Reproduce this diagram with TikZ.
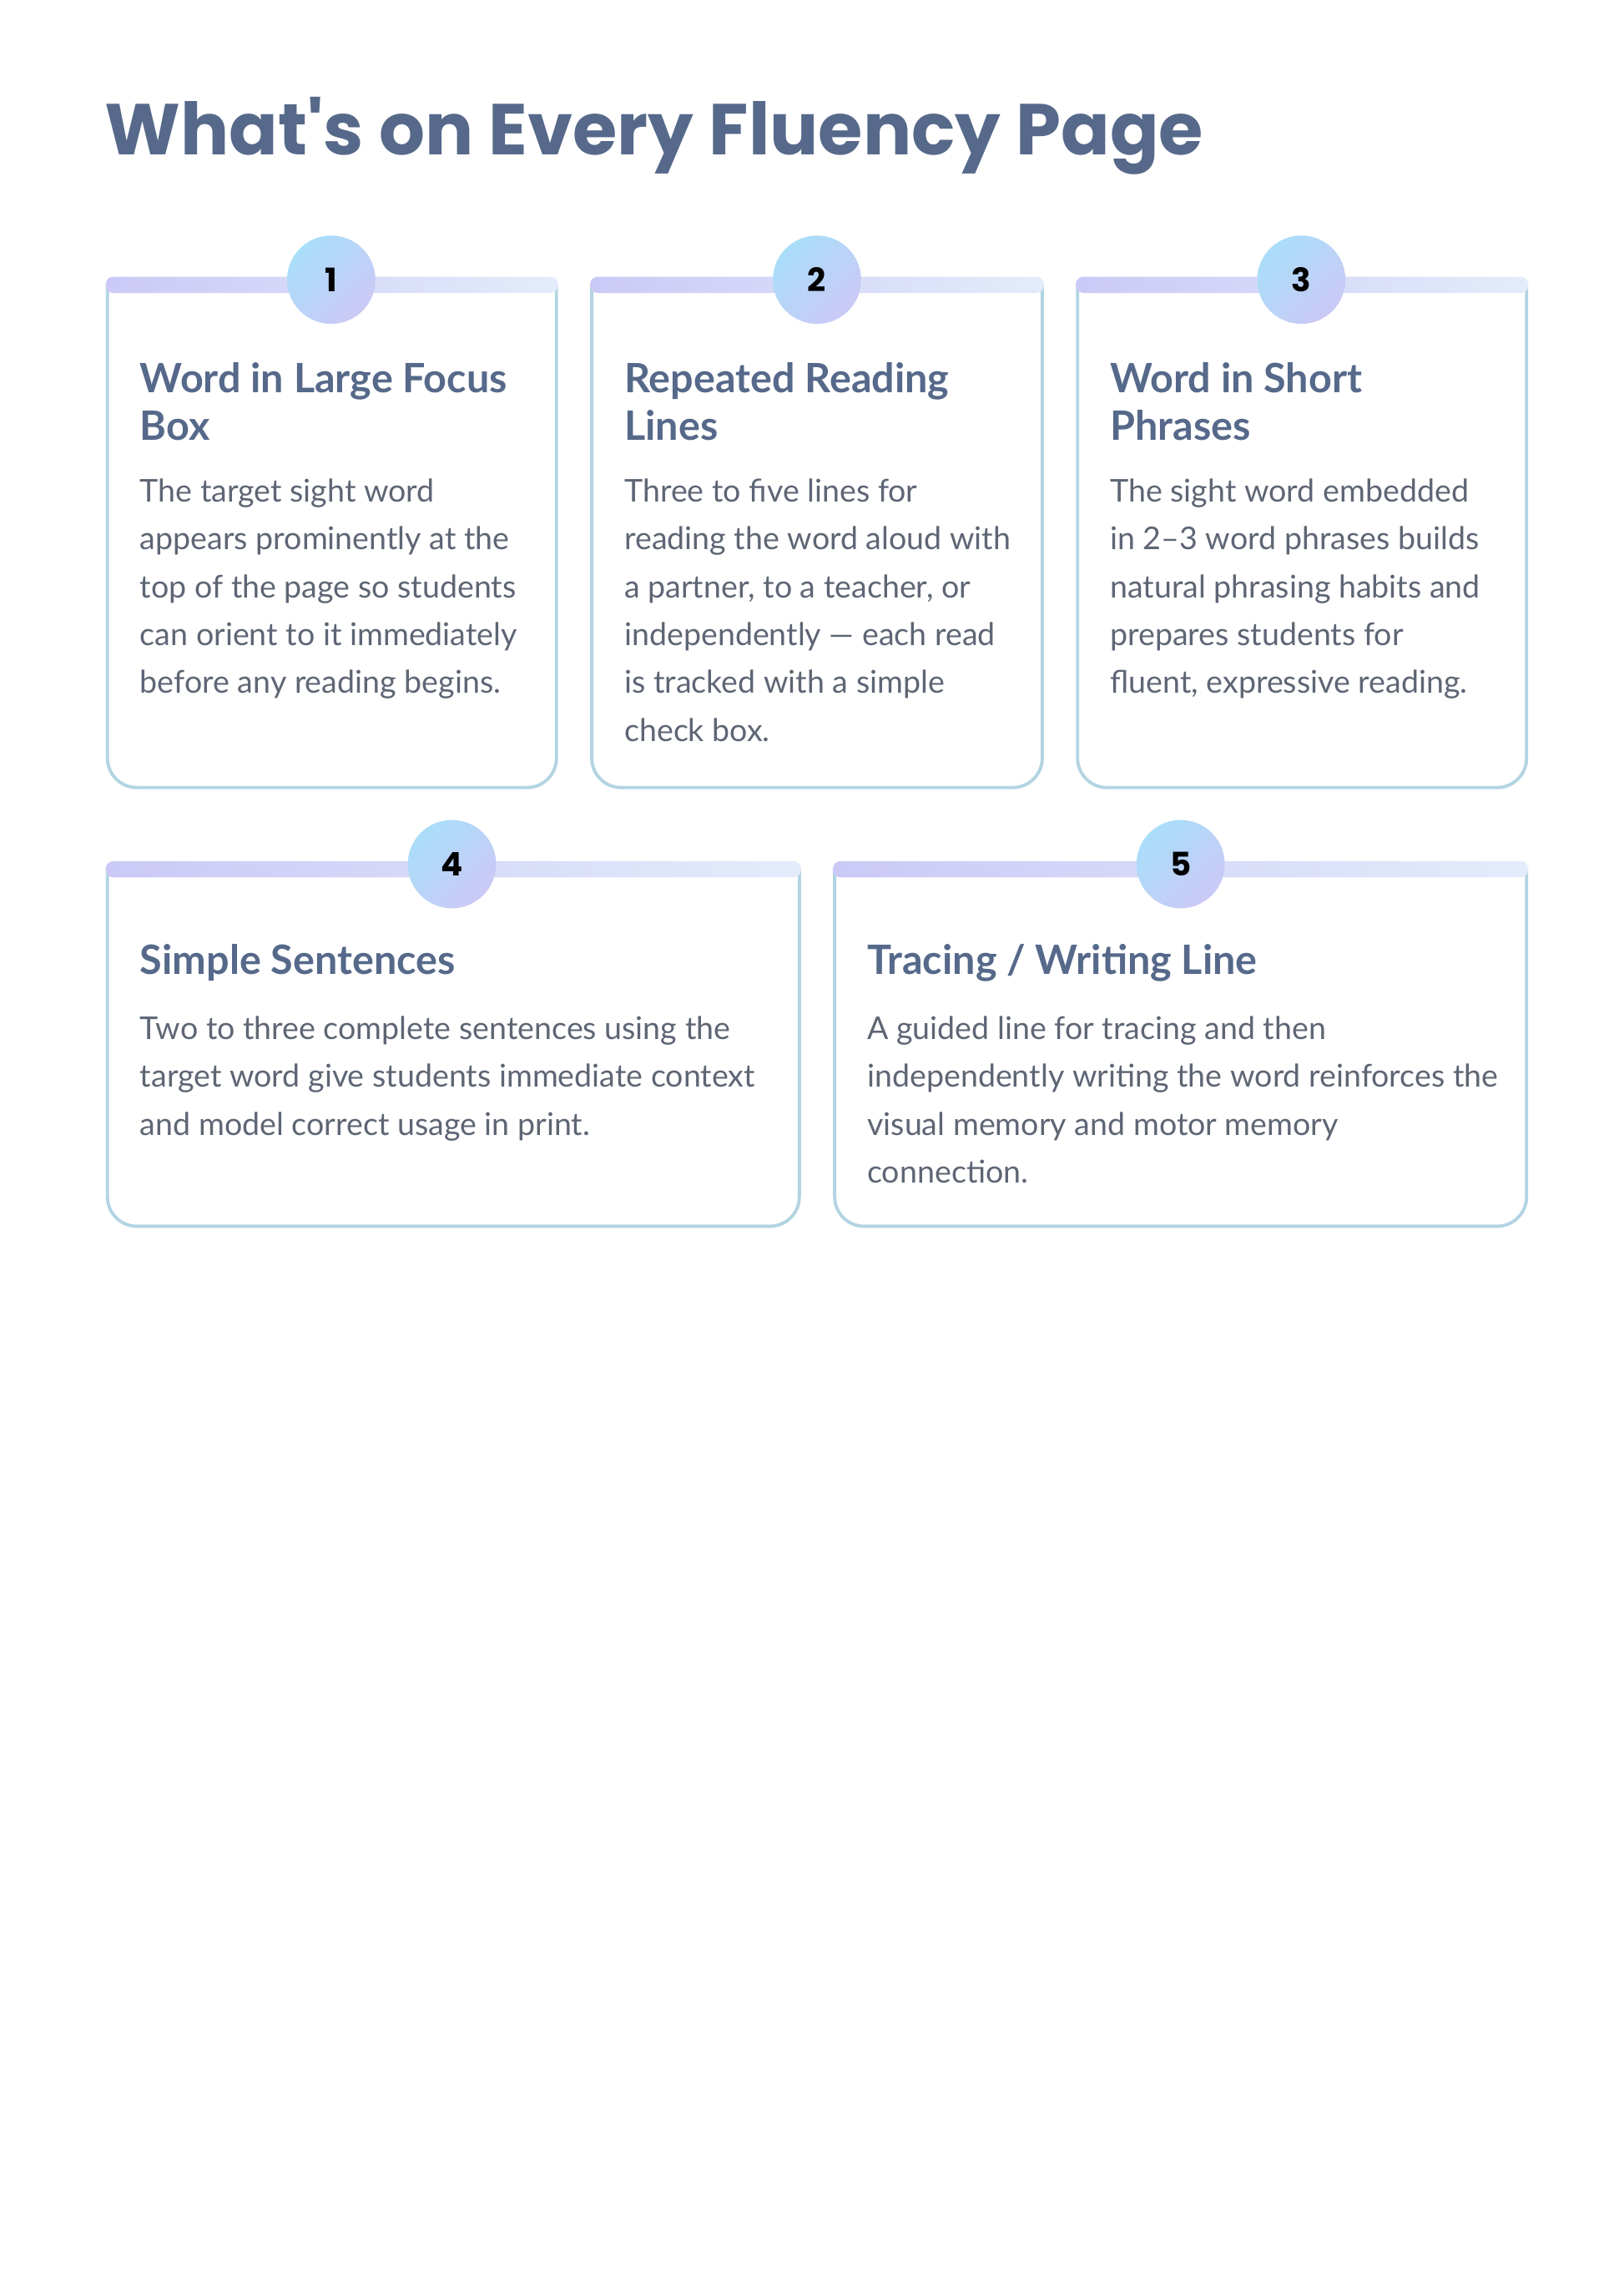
\documentclass[tikz,border=0pt]{standalone}
\usepackage{fontspec}
\setmainfont{Lato}
\newfontfamily\titlefont{Poppins}
\definecolor{ink}{HTML}{56698A}
\definecolor{body}{HTML}{5E6675}
\definecolor{bord}{HTML}{B3D4E2}
\definecolor{lav}{HTML}{CBC9F6}
\definecolor{sky}{HTML}{A9DEF9}
\definecolor{pale}{HTML}{E3ECFB}
\tikzset{
 head/.style={anchor=base west,inner sep=0pt,align=left,text=ink,font=\fontsize{27.5}{32}\selectfont\bfseries},
 txt/.style={anchor=base west,inner sep=0pt,align=left,text=body,font=\fontsize{21.3}{32.5}\selectfont},
 num/.style={circle,minimum size=60pt,inner sep=0pt,shading=axis,top color=sky,bottom color=lav,shading angle=45,font=\titlefont\fontsize{22}{22}\selectfont\bfseries,text=black},
}
\newcommand{\card}[4]{% x1 x2 ytop ybottom
 \draw[bord,line width=2.2pt,rounded corners=20pt] (#1,#3+5) -- (#1,#4) -- (#2,#4) -- (#2,#3+5);
 \shade[rounded corners=5pt,left color=lav,middle color=sky,right color=pale] (#1-1.1,#3) rectangle (#2+1.1,#3+11);
}
\begin{document}
\begin{tikzpicture}[x=1pt,y=-1pt]
\useasboundingbox[fill=white] (0,0) rectangle (1103,1559);
\node[anchor=base west,inner sep=0pt,text=ink,font=\titlefont\fontsize{49}{60}\selectfont\bfseries] (title) at (71,105) {What's on Every Fluency Page};
\card{73}{378}{188}{535}
\card{402}{708}{188}{535}
\card{732}{1037}{188}{535}
\card{73}{543}{585}{833}
\card{567}{1037}{585}{833}
\node[num] (n1) at (225,190) {1};
\node[num] (n2) at (555,190) {2};
\node[num] (n3) at (884,190) {3};
\node[num] (n4) at (307,587) {4};
\node[num] (n5) at (802,587) {5};
\node[head] (h1) at (95,299) {Word in Large Focus\\Box};
\node[head] (h2) at (424,299) {Repeated Reading\\Lines};
\node[head] (h3) at (754,299) {Word in Short\\Phrases};
\node[head] (h4) at (95,662) {Simple Sentences};
\node[head] (h5) at (589,662) {Tracing / Writing Line};
\node[txt] (t1) at (95,471) {The target sight word\\appears prominently at the\\top of the page so students\\can orient to it immediately\\before any reading begins.};
\node[txt] (t2) at (424,503.5) {Three to five lines for\\reading the word aloud with\\a partner, to a teacher, or\\independently — each read\\is tracked with a simple\\check box.};
\node[txt] (t3) at (754,471) {The sight word embedded\\in 2–3 word phrases builds\\natural phrasing habits and\\prepares students for\\fluent, expressive reading.};
\node[txt] (t4) at (95,771) {Two to three complete sentences using the\\target word give students immediate context\\and model correct usage in print.};
\node[txt] (t5) at (589,803.5) {A guided line for tracing and then\\independently writing the word reinforces the\\visual memory and motor memory\\connection.};
\end{tikzpicture}
\end{document}
